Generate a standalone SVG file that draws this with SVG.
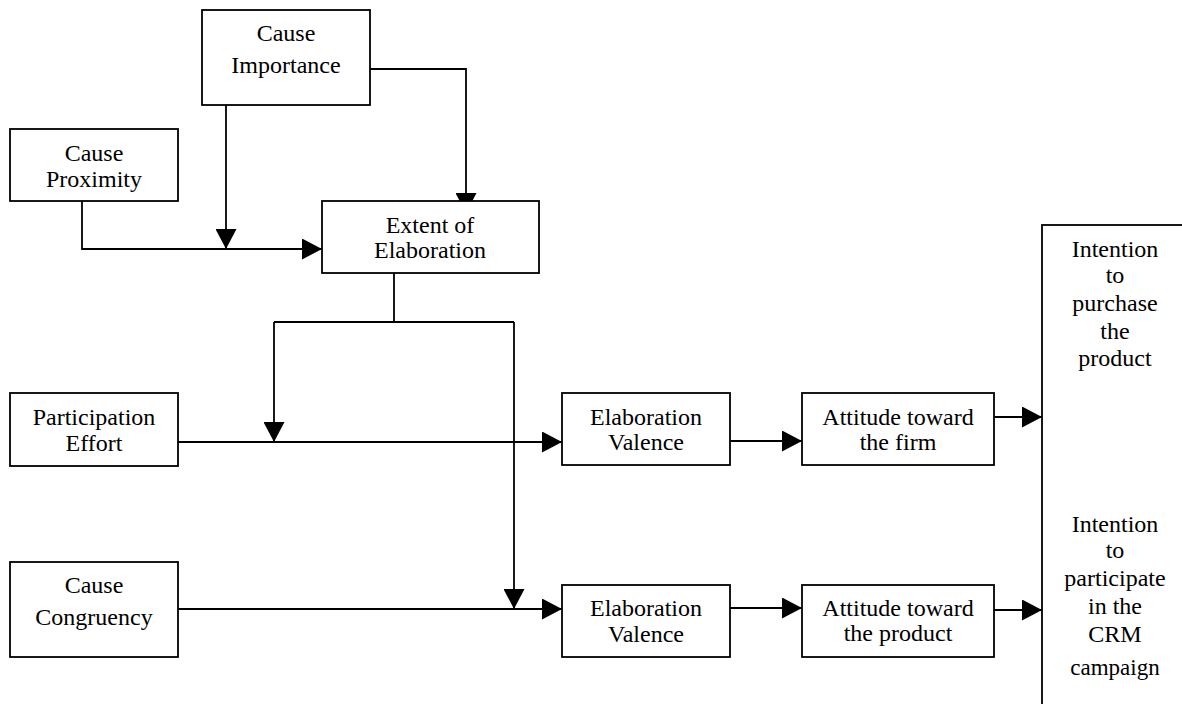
<svg xmlns="http://www.w3.org/2000/svg" width="1182" height="704" viewBox="0 0 1182 704">
<style>
.box{fill:#fff;stroke:#000;stroke-width:1.8}
.t{font-family:'Liberation Serif','DejaVu Serif',serif;font-size:24px;fill:#000;text-anchor:middle}
.c{fill:none;stroke:#000;stroke-width:1.8}
</style>
<defs>
<marker id="ah" markerUnits="userSpaceOnUse" markerWidth="20" markerHeight="21" refX="20" refY="10.5" orient="auto" viewBox="0 0 20 21">
<path d="M0,0 L20,10.5 L0,21 Z" fill="#000"/>
</marker>
</defs>
<rect width="1182" height="704" fill="#fff"/>
<g id="connectors">
<path class="c" d="M82,201 V249 H322" marker-end="url(#ah)"/>
<path class="c" d="M226,105 V249" marker-end="url(#ah)"/>
<path class="c" d="M370,69 H466 V213" marker-end="url(#ah)"/>
<path class="c" d="M394,273 V322 M274,322 H514"/>
<path class="c" d="M274,322 V442" marker-end="url(#ah)"/>
<path class="c" d="M514,322 V609" marker-end="url(#ah)"/>
<path class="c" d="M178,442 H562" marker-end="url(#ah)"/>
<path class="c" d="M178,609 H562" marker-end="url(#ah)"/>
<path class="c" d="M730,441 H802" marker-end="url(#ah)"/>
<path class="c" d="M994,417 H1042" marker-end="url(#ah)"/>
<path class="c" d="M730,608 H802" marker-end="url(#ah)"/>
<path class="c" d="M994,610 H1042" marker-end="url(#ah)"/>
</g>
<g id="cause-importance">
<rect class="box" x="202" y="10" width="168" height="95"/>
<text class="t" x="286" y="41">Cause</text>
<text class="t" x="286" y="73">Importance</text>
</g>
<g id="cause-proximity">
<rect class="box" x="10" y="129" width="168" height="72"/>
<text class="t" x="94" y="161">Cause</text>
<text class="t" x="94" y="187">Proximity</text>
</g>
<g id="extent-of-elaboration">
<rect class="box" x="322" y="201" width="217" height="72"/>
<text class="t" x="430" y="233">Extent of</text>
<text class="t" x="430" y="258">Elaboration</text>
</g>
<g id="participation-effort">
<rect class="box" x="10" y="393" width="168" height="73"/>
<text class="t" x="94" y="425">Participation</text>
<text class="t" x="94" y="451">Effort</text>
</g>
<g id="cause-congruency">
<rect class="box" x="10" y="562" width="168" height="95"/>
<text class="t" x="94" y="593">Cause</text>
<text class="t" x="94" y="625">Congruency</text>
</g>
<g id="elaboration-valence-1">
<rect class="box" x="562" y="393" width="168" height="72"/>
<text class="t" x="646" y="425">Elaboration</text>
<text class="t" x="646" y="450">Valence</text>
</g>
<g id="attitude-firm">
<rect class="box" x="802" y="393" width="192" height="72"/>
<text class="t" x="898" y="425">Attitude toward</text>
<text class="t" x="898" y="450">the firm</text>
</g>
<g id="elaboration-valence-2">
<rect class="box" x="562" y="585" width="168" height="72"/>
<text class="t" x="646" y="616">Elaboration</text>
<text class="t" x="646" y="642">Valence</text>
</g>
<g id="attitude-product">
<rect class="box" x="802" y="585" width="192" height="72"/>
<text class="t" x="898" y="616">Attitude toward</text>
<text class="t" x="898" y="641">the product</text>
</g>
<g id="intentions">
<rect class="box" x="1042" y="225" width="170" height="520"/>
<text class="t" x="1115" y="257">Intention</text>
<text class="t" x="1115" y="283">to</text>
<text class="t" x="1115" y="311">purchase</text>
<text class="t" x="1115" y="339">the</text>
<text class="t" x="1115" y="366">product</text>
<text class="t" x="1115" y="532">Intention</text>
<text class="t" x="1115" y="558">to</text>
<text class="t" x="1115" y="586">participate</text>
<text class="t" x="1115" y="614">in the</text>
<text class="t" x="1115" y="642">CRM</text>
<text class="t" x="1115" y="675" style="font-size:23px">campaign</text>
</g>
</svg>
